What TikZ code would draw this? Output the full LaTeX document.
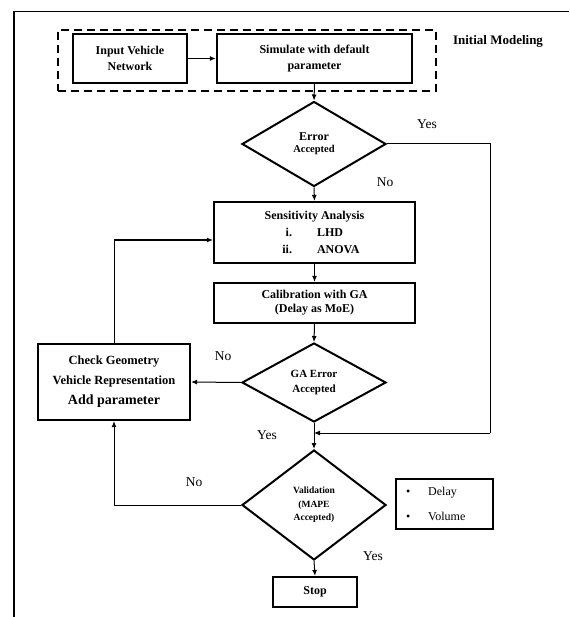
\documentclass[tikz,border=0pt]{standalone}
\usepackage{fontspec}
\setmainfont{Liberation Serif}
\usetikzlibrary{shapes.geometric,arrows.meta}
\begin{document}
\begin{tikzpicture}[x=1pt,y=-1pt,
  box/.style={draw, line width=2.2pt, inner sep=0pt, align=center, font=\bfseries\fontsize{12}{16}\selectfont},
  dia/.style={diamond, draw, line width=2pt, inner sep=0pt, aspect=1.7, align=center, font=\bfseries},
  conn/.style={line width=1pt},
  arr/.style={conn, -{Latex[length=6pt,width=5pt]}},
  lbl/.style={font=\fontsize{13.5}{15}\selectfont, inner sep=0pt},
  dashbox/.style={draw, line width=2.4pt, dash pattern=on 8pt off 5pt, inner sep=0pt}]
\useasboundingbox (0,0) rectangle (569,617);
% outer frame
\draw[line width=1.5pt] (14,617) -- (14,11.5) -- (569,11.5);
% initial modeling
\node[dashbox, minimum width=378pt, minimum height=61pt] (init) at (247,60.5) {};
\node[font=\bfseries\fontsize{13}{15}\selectfont, inner sep=0pt] (initlbl) at (498,41) {Initial Modeling};
\node[box, minimum width=114pt, minimum height=49pt] (inp) at (130,58.5) {Input Vehicle\\Network};
\node[box, minimum width=195pt, minimum height=49pt] (sim) at (314.5,58.5) {Simulate with default\\parameter};
\node[dia, minimum width=144pt, minimum height=85pt] (d1) at (314,144) {{\fontsize{12}{16}\selectfont Error}\\{\fontsize{10.5}{12}\selectfont Accepted}};
\node[box, minimum width=201pt, minimum height=61pt, font=\bfseries\fontsize{12}{17}\selectfont] (sens) at (314.5,232.5)
  {Sensitivity Analysis\\
   \hspace*{26pt}\makebox[0pt][r]{i.}\hspace{25pt}\makebox[46pt][l]{LHD}\\
   \hspace*{26pt}\makebox[0pt][r]{ii.}\hspace{25pt}\makebox[46pt][l]{ANOVA}};
\node[box, minimum width=201pt, minimum height=40pt, font=\bfseries\fontsize{12}{14}\selectfont] (cal) at (314.5,303) {Calibration with GA\\(Delay as MoE)};
\node[dia, minimum width=144pt, minimum height=79pt, font=\bfseries\fontsize{11}{15}\selectfont] (d2) at (314,382.5) {GA Error\\Accepted};
\node[box, minimum width=152pt, minimum height=76pt, font=\bfseries\fontsize{12.5}{20}\selectfont] (chk) at (114,382) {Check Geometry\\Vehicle Representation\\{\fontsize{14}{20}\selectfont Add parameter}};
\node[dia, minimum width=144pt, minimum height=110pt, font=\bfseries\fontsize{9.5}{13.5}\selectfont] (d3) at (314,505) {Validation\\(MAPE\\Accepted)};
\node[box, minimum width=97pt, minimum height=50pt, text width=77pt, inner xsep=10pt, align=left, font=\fontsize{12}{25}\selectfont] (dv) at (444.5,504) {\textbullet\hspace{18pt}Delay\\\textbullet\hspace{18pt}Volume};
\node[box, minimum width=84pt, minimum height=30pt] (stop) at (315,592) {Stop};
% helper coordinates
\coordinate (j) at (314,433);
\coordinate (yr) at (490,433);
% connectors
\draw[arr, line width=1.8pt] (inp.east) -- (sim.west);
\draw[arr] (sim.south) -- (d1.north);
\draw[conn] (d1.east) -| (yr);
\draw[arr] (yr) -- (j);
\draw[arr] (d1.south) -- (sens.north);
\draw[arr] (sens.south) -- (cal.north);
\draw[arr] (cal.south) -- (d2.north);
\draw[arr] (d2.west) -- (chk.east);
\draw[arr] (chk.north) |- ([yshift=-7.5pt]sens.west);
\draw[arr] (d2.south) -- (d3.north);
\draw[arr] (d3.west) -| (chk.south);
\draw[arr] (d3.south) -- (stop.north);
% labels
\node[lbl] (y1) at (427,124) {Yes};
\node[lbl] (n1) at (385,182) {No};
\node[lbl] (n2) at (223,356) {No};
\node[lbl] (y2) at (267,435) {Yes};
\node[lbl] (n3) at (194,482) {No};
\node[lbl] (y3) at (373,556) {Yes};
\end{tikzpicture}
\end{document}
